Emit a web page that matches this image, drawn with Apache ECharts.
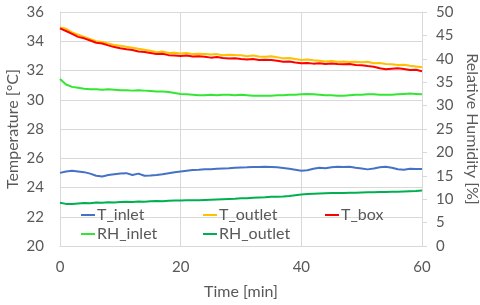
<!DOCTYPE html>
<html>
<head>
<meta charset="utf-8">
<script src="https://cdn.jsdelivr.net/npm/echarts@6/dist/echarts.min.js"></script>
<style>
html,body{margin:0;padding:0;background:#fff;}
#chart{width:480px;height:305px;}
</style>
</head>
<body>
<div id="chart"></div>
<script>
// Time in minutes
const time = [0,1,2,3,4,5,6,7,8,9,10,11,12,13,14,15,16,17,18,19,20,21,22,23,24,25,26,27,28,29,30,31,32,33,34,35,36,37,38,39,40,41,42,43,44,45,46,47,48,49,50,51,52,53,54,55,56,57,58,59,60];

// Temperatures [°C]
const T_inlet = [25.0,25.1,25.15,25.1,25.05,24.95,24.8,24.75,24.85,24.9,24.95,24.98,24.85,24.95,24.8,24.82,24.85,24.9,24.98,25.05,25.1,25.15,25.2,25.22,25.25,25.25,25.28,25.3,25.32,25.35,25.37,25.38,25.4,25.4,25.42,25.4,25.38,25.33,25.28,25.22,25.15,25.18,25.28,25.35,25.32,25.38,25.42,25.4,25.42,25.35,25.3,25.24,25.3,25.38,25.42,25.35,25.25,25.22,25.28,25.26,25.26];
const T_outlet = [34.95,34.85,34.6,34.45,34.3,34.15,34.0,33.95,33.85,33.75,33.7,33.62,33.55,33.48,33.42,33.35,33.25,33.3,33.2,33.22,33.17,33.2,33.12,33.15,33.13,33.1,33.12,33.05,33.08,33.06,33.05,32.98,33.02,32.95,32.94,32.98,32.9,32.83,32.85,32.78,32.72,32.75,32.7,32.67,32.62,32.65,32.6,32.62,32.58,32.6,32.56,32.6,32.5,32.52,32.45,32.42,32.38,32.4,32.32,32.28,32.22];
const T_box = [34.88,34.7,34.5,34.3,34.2,34.05,33.9,33.85,33.72,33.6,33.52,33.45,33.4,33.3,33.27,33.2,33.12,33.15,33.05,33.02,32.99,33.02,32.95,32.97,32.94,32.88,32.92,32.85,32.82,32.84,32.79,32.75,32.78,32.72,32.74,32.72,32.66,32.6,32.62,32.55,32.49,32.52,32.47,32.49,32.45,32.48,32.44,32.42,32.45,32.38,32.36,32.3,32.26,32.15,32.08,32.12,32.15,32.1,32.04,32.05,31.95];

// Relative humidity [%]
const RH_inlet = [35.7,34.5,34.0,33.8,33.6,33.5,33.5,33.4,33.5,33.4,33.3,33.3,33.2,33.3,33.2,33.1,33.0,33.0,32.9,32.7,32.5,32.4,32.3,32.2,32.2,32.3,32.2,32.3,32.3,32.2,32.3,32.2,32.1,32.1,32.1,32.1,32.2,32.2,32.3,32.3,32.4,32.5,32.4,32.3,32.2,32.2,32.1,32.1,32.2,32.3,32.3,32.4,32.4,32.3,32.3,32.3,32.4,32.5,32.6,32.5,32.4];
const RH_outlet = [9.25,9.0,8.95,9.1,9.2,9.15,9.3,9.25,9.35,9.3,9.4,9.45,9.4,9.5,9.45,9.55,9.6,9.55,9.65,9.7,9.7,9.75,9.8,9.75,9.85,9.9,9.95,10.0,10.05,10.1,10.2,10.2,10.3,10.35,10.4,10.5,10.55,10.6,10.7,10.85,11.0,11.1,11.15,11.2,11.25,11.3,11.3,11.35,11.4,11.4,11.45,11.5,11.5,11.55,11.55,11.6,11.6,11.65,11.7,11.75,11.85];

const seriesNames = ['T_inlet','T_outlet','T_box','RH_inlet','RH_outlet'];
const seriesColors = ['#4472C4','#FFC000','#FF0000','#33E633','#00B050'];

const FONT = 'Lato';
const TXT = '#595959';
const GRID = '#d9d9d9';

function pairs(arr){ return time.map((t,i)=>[t,arr[i]]); }

const seriesDefs = [
  {name:'RH_outlet', data:RH_outlet, axis:1, z:1},
  {name:'RH_inlet', data:RH_inlet, axis:1, z:2},
  {name:'T_inlet', data:T_inlet, axis:0, z:3},
  {name:'T_outlet', data:T_outlet, axis:0, z:4},
  {name:'T_box', data:T_box, axis:0, z:5}
];

const legendPos = {
  'T_inlet':[81,207], 'T_outlet':[203,207], 'T_box':[325,207],
  'RH_inlet':[81,226], 'RH_outlet':[203,226]
};

const chart = echarts.init(document.getElementById('chart'), null, {renderer:'canvas'});
chart.setOption({
  animation:false,
  backgroundColor:'#fff',
  textStyle:{fontFamily:FONT},
  grid:{left:60, right:58, top:12, bottom:59, containLabel:false, outerBoundsMode:'none'},
  legend: seriesNames.map(n=>({
    data:[n], left:legendPos[n][0], top:legendPos[n][1],
    icon:'rect', itemWidth:14, itemHeight:2, itemGap:0,
    padding:0,
    textStyle:{color:TXT, fontSize:16, fontFamily:FONT, padding:[0,0,0,-3]}
  })),
  xAxis:{
    type:'value', min:0, max:60, interval:20,
    name:'Time [min]', nameLocation:'middle', nameGap:38,
    nameTextStyle:{color:TXT, fontSize:16, fontFamily:FONT},
    axisLine:{show:true, onZero:false, lineStyle:{color:GRID, width:1}},
    axisTick:{show:false},
    axisLabel:{color:TXT, fontSize:15, margin:14, fontFamily:FONT},
    splitLine:{show:true, lineStyle:{color:GRID, width:1}}
  },
  yAxis:[
    {
      type:'value', min:20, max:36, interval:2, position:'left',
      name:'Temperature [°C]', nameLocation:'middle', nameGap:39, nameRotate:90,
      nameMoveOverlap:false,
      nameTextStyle:{color:TXT, fontSize:16, fontFamily:FONT},
      axisLine:{show:true, lineStyle:{color:GRID, width:1}},
      axisTick:{show:false},
      axisLabel:{color:TXT, fontSize:15, margin:16, fontFamily:FONT},
      splitLine:{show:true, lineStyle:{color:GRID, width:1}}
    },
    {
      type:'value', min:0, max:50, interval:5, position:'right',
      name:'Relative Humidity [%]', nameLocation:'middle', nameGap:38, nameRotate:-90,
      nameTextStyle:{color:TXT, fontSize:16, fontFamily:FONT},
      axisLine:{show:true, lineStyle:{color:GRID, width:1}},
      axisTick:{show:true, length:5, inside:false, lineStyle:{color:GRID, width:1}},
      axisLabel:{color:TXT, fontSize:15, margin:14, fontFamily:FONT},
      splitLine:{show:false}
    }
  ],
  series: seriesDefs.map(s=>({
    name:s.name, type:'line', yAxisIndex:s.axis, z:s.z,
    data:pairs(s.data), showSymbol:false, symbol:'none',
    color:seriesColors[seriesNames.indexOf(s.name)],
    lineStyle:{width:2, color:seriesColors[seriesNames.indexOf(s.name)]},
    emphasis:{disabled:true}
  }))
});
</script>
</body>
</html>
